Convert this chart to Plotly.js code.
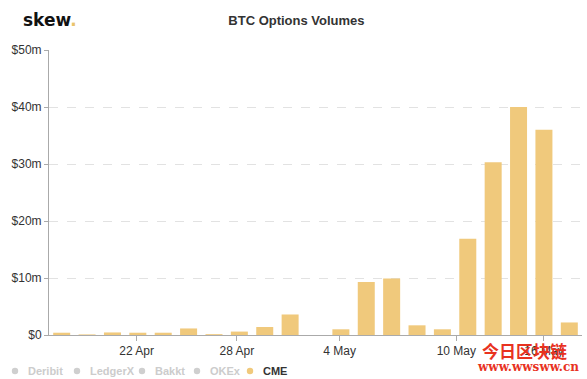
<!DOCTYPE html>
<html>
<head>
<meta charset="utf-8">
<script src="https://cdn.plot.ly/plotly-3.0.1.min.js"></script>
<style>html,body{margin:0;padding:0;background:#fff;}#chart{width:587px;height:379px;}</style>
</head>
<body>
<div id="chart"></div>
<script>
// Trading days (weekends skipped)
const days = ["17 Apr","20 Apr","21 Apr","22 Apr","23 Apr","24 Apr","27 Apr","28 Apr","29 Apr","30 Apr","1 May",
              "4 May","5 May","6 May","7 May","8 May","11 May","12 May","13 May","14 May","15 May"];
// CME BTC options volume, $ millions
const cme = [0.4,0.1,0.45,0.4,0.4,1.15,0.15,0.6,1.4,3.6,0,
             1.0,9.3,9.9,1.7,1.0,16.9,30.3,40.0,36.0,2.2];
const seriesNames = ["Deribit","LedgerX","Bakkt","OKEx","CME"];
const seriesShown = [false,false,false,false,true];
const xTickPos = [2.95, 6.9, 10.95, 15.55, 19.0];
const xTickText = ["22 Apr","28 Apr","4 May","10 May","16 May"];
const yTickVals = [0,10,20,30,40,50];
const yTickText = ["$0","$10m","$20m","$30m","$40m","$50m"];

const idx = days.map((d,i)=>i);
const barColor = "#f0c97c";

// plot-area geometry (px) for placing legend items in paper units
const L = 49, W = 533, B = 335, H = 285;
const px2x = p => (p - L) / W;
const py2y = p => (B - p) / H;
const legendDotPx = [15, 77, 142, 197, 250];
const legendY = 371;

const traces = [{type:"bar", x:idx, y:cme, customdata:days, name:"CME", showlegend:false,
  marker:{color:barColor}, hovertemplate:"%{customdata}: $%{y}m<extra></extra>"}];

const font = "Helvetica Neue, Helvetica, Arial, Liberation Sans, sans-serif";
const shapes = [];
const annotations = [
  {text:'<b>skew</b><b><span style="color:#e9c46a">.</span></b>', xref:"paper", yref:"paper",
   x:px2x(21), y:py2y(20), xanchor:"left", yanchor:"middle", showarrow:false,
   font:{family:"DejaVu Sans, sans-serif", size:17, color:"#111"}}
];
seriesNames.forEach((n,i)=>{
  const cx = legendDotPx[i];
  shapes.push({type:"circle", xref:"paper", yref:"paper",
    x0:px2x(cx-3.2), x1:px2x(cx+3.2), y0:py2y(legendY+3.2), y1:py2y(legendY-3.2),
    fillcolor: seriesShown[i] ? barColor : "#cfcfcf", line:{width:0}});
  annotations.push({text:"<b>"+n+"</b>", xref:"paper", yref:"paper", x:px2x(cx+11), y:py2y(legendY),
    xanchor:"left", yanchor:"middle", showarrow:false,
    font:{family:font, size:11, color: seriesShown[i] ? "#333" : "#cccccc"}});
});
annotations.push({text:"<b>今日区块链</b>", xref:"paper", yref:"paper", x:px2x(569), y:py2y(350),
  xanchor:"right", yanchor:"middle", showarrow:false,
  font:{family:"Noto Sans CJK SC, sans-serif", size:17, color:"#e8321f"}});
annotations.push({text:"<b>www.wwsww.cn</b>", xref:"paper", yref:"paper", x:px2x(581), y:py2y(367),
  xanchor:"right", yanchor:"middle", showarrow:false,
  font:{family:"DejaVu Serif, Liberation Serif, serif", size:12, color:"#e8321f"}});

const layout = {
  width:587, height:379,
  margin:{l:L, r:5, t:50, b:44},
  paper_bgcolor:"#fff", plot_bgcolor:"#fff",
  font:{family:font, size:12, color:"#333"},
  title:{text:"<b>BTC Options Volumes</b>", font:{family:font, size:13, color:"#333"},
         xref:"container", x:0.505, xanchor:"center", yref:"container", y:0.945, yanchor:"middle"},
  bargap:0.33,
  showlegend:false,
  xaxis:{type:"linear", range:[-0.5,20.5], tickmode:"array", tickvals:xTickPos, ticktext:xTickText,
         showgrid:false, zeroline:false, showline:true, linecolor:"#aaa", linewidth:1,
         ticks:"outside", ticklen:5, tickcolor:"#aaa", tickfont:{size:12, color:"#333"}, fixedrange:true},
  yaxis:{range:[0,50], tickmode:"array", tickvals:yTickVals, ticktext:yTickText,
         showgrid:true, gridcolor:"#e2e2e2", griddash:"dash", zeroline:false,
         showline:true, linecolor:"#aaa", linewidth:1, ticks:"outside", ticklen:4, tickcolor:"#aaa",
         tickfont:{size:12, color:"#333"}, fixedrange:true},
  shapes:shapes,
  annotations:annotations
};
Plotly.newPlot("chart", traces, layout, {displayModeBar:false, staticPlot:true});
</script>
</body>
</html>
